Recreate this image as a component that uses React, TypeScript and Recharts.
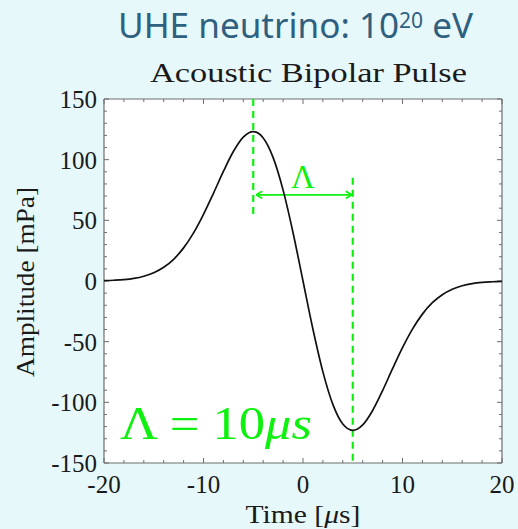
import React from 'react';
import {
  LineChart,
  Line,
  XAxis,
  YAxis,
  ReferenceLine,
  ReferenceDot,
  CartesianGrid,
} from 'recharts';

// ---- data ----
const TIME = [
  -20, -19, -18, -17, -16, -15, -14, -13, -12, -11, -10, -9, -8, -7, -6, -5, -4, -3, -2, -1,
  0, 1, 2, 3, 4, 5, 6, 7, 8, 9, 10, 11, 12, 13, 14, 15, 16, 17, 18, 19, 20,
];
const AMPLITUDE = [
  0.3, 0.6, 1.1, 2.1, 3.9, 6.8, 11.3, 17.9, 27.3, 39.7, 55.0, 72.3, 90.3, 106.7, 118.6, 123.1,
  117.9, 101.7, 74.9, 39.8, 0, -39.8, -74.9, -101.7, -117.9, -123.1, -118.6, -106.7, -90.3,
  -72.3, -55.0, -39.7, -27.3, -17.9, -11.3, -6.8, -3.9, -2.1, -1.1, -0.6, -0.3,
];
const X_TICKS = [-20, -10, 0, 10, 20];
const X_MINOR = [-18, -16, -14, -12, -8, -6, -4, -2, 2, 4, 6, 8, 12, 14, 16, 18];
const Y_TICKS = [-150, -100, -50, 0, 50, 100, 150];
const Y_MINOR = [
  -140, -130, -120, -110, -90, -80, -70, -60, -40, -30, -20, -10, 10, 20, 30, 40, 60, 70, 80,
  90, 110, 120, 130, 140,
];
const PEAK_TIME = -5;
const TROUGH_TIME = 5;
const PEAK_LINE_END = 54;
const TROUGH_LINE_START = 85;
const ARROW_LEVEL = 71;
const LAMBDA_LABEL = 'Λ';
const ANNOTATION = ['Λ = 10', 'μs'];
const ANNOTATION_POS = { x: -18.4, y: -130 };

const data = TIME.map((t, i) => ({ t, a: AMPLITUDE[i] }));

// ---- styles ----
const BG = '#e6f8f9';
const GREEN = '#0ef00e';
const FRAME = '#6e6e6e';
const X_MIN = -20, X_MAX = 20, Y_MIN = -150, Y_MAX = 150;
// pixels -> data units (plot is 398 x 364 px)
const PX_X = (X_MAX - X_MIN) / 398;
const PX_Y = (Y_MAX - Y_MIN) / 364;
const MAJOR = 5;
const MINOR = 3;
const SERIF = 'Liberation Serif, Times New Roman, Tinos, serif';

function tickSegments() {
  const out: React.ReactNode[] = [];
  const addX = (x: number, len: number, k: string) => {
    out.push(
      <ReferenceLine key={'xb' + k} segment={[{ x, y: Y_MIN }, { x, y: Y_MIN + len * PX_Y }]} stroke={FRAME} strokeWidth={1} />,
      <ReferenceLine key={'xt' + k} segment={[{ x, y: Y_MAX }, { x, y: Y_MAX - len * PX_Y }]} stroke={FRAME} strokeWidth={1} />
    );
  };
  const addY = (y: number, len: number, k: string) => {
    out.push(
      <ReferenceLine key={'yl' + k} segment={[{ x: X_MIN, y }, { x: X_MIN + len * PX_X, y }]} stroke={FRAME} strokeWidth={1} />,
      <ReferenceLine key={'yr' + k} segment={[{ x: X_MAX, y }, { x: X_MAX - len * PX_X, y }]} stroke={FRAME} strokeWidth={1} />
    );
  };
  X_TICKS.forEach((x) => addX(x, MAJOR, 'M' + x));
  X_MINOR.forEach((x) => addX(x, MINOR, 'm' + x));
  Y_TICKS.forEach((y) => addY(y, MAJOR, 'M' + y));
  Y_MINOR.forEach((y) => addY(y, MINOR, 'm' + y));
  return out;
}

const tickStyle = { fontFamily: SERIF, fontSize: 25, fill: '#1a1a1a' };

export default function App() {
  const arrowL = PEAK_TIME + 0.3;
  const arrowR = TROUGH_TIME - 0.1;
  const headX = 0.6;
  const headY = 3;
  return (
    <div style={{ position: 'absolute', left: 0, top: 0, width: 518, height: 529, background: BG }}>
      <LineChart
        width={518}
        height={529}
        data={data}
        margin={{ top: 99, right: 16, bottom: 36, left: 0 }}
      >
        <CartesianGrid fill="#ffffff" horizontal={false} vertical={false} />
        <XAxis
          dataKey="t"
          type="number"
          domain={[X_MIN, X_MAX]}
          ticks={X_TICKS}
          tickLine={false}
          axisLine={false}
          tickSize={0}
          tickMargin={12}
          height={30}
          tick={tickStyle}
          interval={0}
        />
        <YAxis
          type="number"
          domain={[Y_MIN, Y_MAX]}
          ticks={Y_TICKS}
          tickLine={false}
          axisLine={false}
          tickSize={0}
          tickMargin={7}
          width={104}
          tick={tickStyle}
          interval={0}
        />
        <ReferenceLine y={Y_MIN} stroke={FRAME} strokeWidth={1.2} />
        <ReferenceLine y={Y_MAX} stroke={FRAME} strokeWidth={1.2} />
        <ReferenceLine x={X_MIN} stroke={FRAME} strokeWidth={1.2} />
        <ReferenceLine x={X_MAX} stroke={FRAME} strokeWidth={1.2} />
        {tickSegments()}
        <ReferenceLine
          segment={[{ x: PEAK_TIME, y: Y_MAX }, { x: PEAK_TIME, y: PEAK_LINE_END }]}
          stroke={GREEN}
          strokeWidth={2.2}
          strokeDasharray="7 5"
        />
        <ReferenceLine
          segment={[{ x: TROUGH_TIME, y: TROUGH_LINE_START }, { x: TROUGH_TIME, y: Y_MIN }]}
          stroke={GREEN}
          strokeWidth={2.2}
          strokeDasharray="7 5"
        />
        <ReferenceLine segment={[{ x: arrowL, y: ARROW_LEVEL }, { x: arrowR, y: ARROW_LEVEL }]} stroke={GREEN} strokeWidth={1.8} />
        <ReferenceLine segment={[{ x: arrowL, y: ARROW_LEVEL }, { x: arrowL + headX, y: ARROW_LEVEL + headY }]} stroke={GREEN} strokeWidth={1.8} />
        <ReferenceLine segment={[{ x: arrowL, y: ARROW_LEVEL }, { x: arrowL + headX, y: ARROW_LEVEL - headY }]} stroke={GREEN} strokeWidth={1.8} />
        <ReferenceLine segment={[{ x: arrowR, y: ARROW_LEVEL }, { x: arrowR - headX, y: ARROW_LEVEL + headY }]} stroke={GREEN} strokeWidth={1.8} />
        <ReferenceLine segment={[{ x: arrowR, y: ARROW_LEVEL }, { x: arrowR - headX, y: ARROW_LEVEL - headY }]} stroke={GREEN} strokeWidth={1.8} />
        <Line
          type="monotone"
          dataKey="a"
          stroke="#111111"
          strokeWidth={1.7}
          dot={false}
          activeDot={false}
          isAnimationActive={false}
        />
        <ReferenceDot
          x={(PEAK_TIME + TROUGH_TIME) / 2}
          y={ARROW_LEVEL}
          r={0}
          shape={(p: any) => (
            <text x={p.cx} y={p.cy - 7} textAnchor="middle" fontFamily={SERIF} fontSize={33} fill={GREEN}>
              {LAMBDA_LABEL}
            </text>
          )}
        />
        <ReferenceDot
          x={ANNOTATION_POS.x}
          y={ANNOTATION_POS.y}
          r={0}
          shape={(p: any) => (
            <text
              x={p.cx}
              y={p.cy}
              textAnchor="start"
              fontFamily={SERIF}
              fontSize={46}
              fill={GREEN}
              textLength={192}
              lengthAdjust="spacingAndGlyphs"
            >
              {ANNOTATION[0]}
              <tspan fontStyle="italic">{ANNOTATION[1]}</tspan>
            </text>
          )}
        />
      </LineChart>
      <svg
        width={518}
        height={529}
        style={{ position: 'absolute', left: 0, top: 0, pointerEvents: 'none' }}
      >
        <text
          x={118}
          y={38}
          fontFamily="Noto Sans, Open Sans, sans-serif"
          fontSize={35}
          fill="#2f6080"
          textLength={355}
          lengthAdjust="spacingAndGlyphs"
        >
          UHE neutrino: 10
          <tspan fontSize={21} dy={-10}>20</tspan>
          <tspan dy={10}> eV</tspan>
        </text>
        <text
          x={150}
          y={82}
          fontFamily={SERIF}
          fontSize={27}
          fill="#1a1a1a"
          textLength={317}
          lengthAdjust="spacingAndGlyphs"
        >
          Acoustic Bipolar Pulse
        </text>
        <text
          transform="translate(34,282) rotate(-90)"
          textAnchor="middle"
          fontFamily={SERIF}
          fontSize={25}
          fill="#1a1a1a"
          textLength={190}
          lengthAdjust="spacingAndGlyphs"
        >
          Amplitude [mPa]
        </text>
        <text
          x={303}
          y={523}
          textAnchor="middle"
          fontFamily={SERIF}
          fontSize={25}
          fill="#1a1a1a"
          textLength={115}
          lengthAdjust="spacingAndGlyphs"
        >
          Time [<tspan fontStyle="italic">μ</tspan>s]
        </text>
      </svg>
    </div>
  );
}
